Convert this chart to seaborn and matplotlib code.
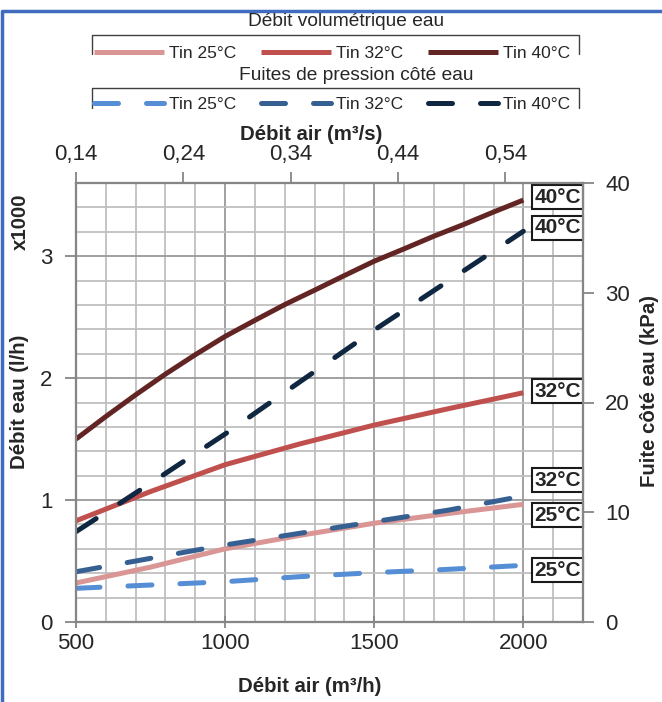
import seaborn as sns
import matplotlib.pyplot as plt
import pandas as pd
from matplotlib.lines import Line2D
from matplotlib.ticker import MultipleLocator

# values
air = [500, 750, 1000, 1250, 1500, 1750, 2000]          # Débit air (m3/h)
air_fine = [500, 600, 700, 800, 900, 1000, 1100, 1200, 1300, 1400,
            1500, 1600, 1700, 1800, 1900, 2000]
debit_25 = [0.32, 0.45, 0.60, 0.71, 0.81, 0.89, 0.965]  # Débit eau x1000 l/h
debit_32 = [0.83, 1.07, 1.29, 1.46, 1.615, 1.75, 1.88]
debit_40 = [1.50, 1.685, 1.863, 2.033, 2.192, 2.342, 2.474, 2.603, 2.721,
            2.841, 2.959, 3.06, 3.164, 3.26, 3.362, 3.46]  # on air_fine
fuite_25 = [3.07, 3.37, 3.67, 4.13, 4.50, 4.80, 5.16]   # Fuite côté eau (kPa)
fuite_32 = [4.58, 5.80, 7.02, 8.08, 9.14, 10.2, 11.48]
fuite_40 = [8.23, 12.64, 17.13, 21.87, 26.6, 31.1, 35.6]
temps = ["25°C", "32°C", "40°C"]
legend_labels = ["Tin 25°C", "Tin 32°C", "Tin 40°C"]
top_labels = ["0,14", "0,24", "0,34", "0,44", "0,54"]

solid_colors = ["#D99694", "#C0504D", "#632523"]
dash_colors = ["#558ED5", "#376092", "#0F2741"]
grey = "#868686"

debit = pd.DataFrame({
    "air": air + air + air_fine,
    "val": debit_25 + debit_32 + debit_40,
    "Tin": ["25°C"] * len(air) + ["32°C"] * len(air) + ["40°C"] * len(air_fine),
})
fuite = pd.DataFrame({
    "air": air * 3,
    "val": fuite_25 + fuite_32 + fuite_40,
    "Tin": [t for t in temps for _ in air],
})

sns.set_style("white")
plt.rcParams["font.family"] = ["Liberation Sans", "DejaVu Sans"]

W, H = 662, 702
fig = plt.figure(figsize=(W / 100, H / 100), dpi=100)
ax = fig.add_axes([76 / W, 1 - 622 / H, (583 - 76) / W, (622 - 183) / H])

sns.lineplot(data=debit, x="air", y="val", hue="Tin", hue_order=temps,
             palette=solid_colors, ax=ax, legend=False, linewidth=3.6,
             solid_capstyle="butt", solid_joinstyle="round")
ax.set_xlim(500, 2200)
ax.set_ylim(0, 3.6)
ax.set_xticks([500, 1000, 1500, 2000])
ax.set_yticks([0, 1, 2, 3])
ax.xaxis.set_minor_locator(MultipleLocator(100))
ax.yaxis.set_minor_locator(MultipleLocator(0.2))
ax.grid(which="minor", color="#BFBFBF", lw=1.3)
ax.grid(which="major", color="#9A9A9A", lw=1.3)
ax.set_axisbelow(True)
ax.tick_params(axis="x", which="major", direction="inout", length=8, width=1.3,
               color=grey, labelsize=16, pad=4)
ax.tick_params(axis="y", which="major", direction="out", length=8, width=1.3,
               color=grey, labelsize=16, pad=9, left=True)
ax.tick_params(which="minor", length=0)

ax2 = ax.twinx()
sns.lineplot(data=fuite, x="air", y="val", hue="Tin", hue_order=temps,
             palette=dash_colors, ax=ax2, legend=False, linewidth=3.6,
             linestyle=(0, (4.8, 5.6)), dash_capstyle="round")
ax2.set_ylim(0, 40)
ax2.set_yticks([0, 10, 20, 30, 40])
ax2.grid(False)
ax2.tick_params(axis="y", direction="out", length=8, width=1.3, color=grey,
                labelsize=16, pad=8, right=True)

ax3 = ax.twiny()
ax3.set_xlim(500 / 3600, 2200 / 3600)
ax3.set_xticks([500 / 3600 + 0.1 * i for i in range(len(top_labels))])
ax3.set_xticklabels(top_labels)
ax3.grid(False)
ax3.tick_params(axis="x", direction="out", length=8, width=1.3, color=grey,
                labelsize=16, pad=5, top=True)

for a in (ax, ax2, ax3):
    for s in a.spines.values():
        s.set_color(grey)
        s.set_linewidth(1.5)

ax.set_ylabel("")
ax.set_xlabel("Débit air (m³/h)", fontsize=14.7, fontweight="bold")
ax.xaxis.set_label_coords((310 - 76) / 507, (622 - 677) / 439)
ax2.set_ylabel("Fuite côté eau (kPa)", fontsize=14.7, fontweight="bold")
ax2.yaxis.set_label_coords((640 - 76) / 507, (622 - 391) / 439)
ax3.set_xlabel("Débit air (m³/s)", fontsize=14.7, fontweight="bold")
ax3.xaxis.set_label_coords((311 - 76) / 507, (622 - 140) / 439)
fig.text(20 / W, 1 - 402 / H, "Débit eau (l/h)", rotation=90, ha="center",
         va="center", fontsize=14.7, fontweight="bold")
fig.text(20 / W, 1 - 222 / H, "x1000", rotation=90, ha="center",
         va="center", fontsize=14.7, fontweight="bold")

# end-of-line labels
label_offsets_solid = [-10.7, 1.7, 3]
label_offsets_dash = [-4.7, 16, 3.5]
box = dict(boxstyle="square,pad=0.12", fc="white", ec="#1A1A1A", lw=1.5)
for ys, xs, t, dy in zip([debit_25, debit_32, debit_40], [air, air, air_fine],
                         temps, label_offsets_solid):
    ax.annotate(t, xy=(xs[-1], ys[-1]), xytext=(11, dy), textcoords="offset pixels",
                ha="left", va="center", fontsize=15, fontweight="bold",
                bbox=box, annotation_clip=False, zorder=10)
for t, ys, dy in zip(temps, [fuite_25, fuite_32, fuite_40], label_offsets_dash):
    ax2.annotate(t, xy=(air[-1], ys[-1]), xytext=(11, dy), textcoords="offset pixels",
                 ha="left", va="center", fontsize=15, fontweight="bold",
                 bbox=box, annotation_clip=False, zorder=10)

# legends with their titles and bracket frames
leg_kw = dict(loc="center", ncol=3, frameon=False, fontsize=12.5, handlelength=4,
              handletextpad=0.3, columnspacing=1.45, borderpad=0)
fig.legend(ax.get_lines()[:3], legend_labels,
           bbox_to_anchor=(332 / W, 1 - 53 / H), **leg_kw)
fig.legend(ax2.get_lines()[:3], legend_labels,
           bbox_to_anchor=(332 / W, 1 - 104 / H), **leg_kw)
fig.text(346 / W, 1 - 21 / H, "Débit volumétrique eau", ha="center", va="center",
         fontsize=13.8)
fig.text(356 / W, 1 - 76 / H, "Fuites de pression côté eau", ha="center",
         va="center", fontsize=13.8)
for top, bot in [(35, 54), (88, 108)]:
    fig.add_artist(Line2D([92 / W, 92 / W, 579 / W, 579 / W],
                          [1 - bot / H, 1 - top / H, 1 - top / H, 1 - bot / H],
                          color="#404040", lw=1))

# outer blue frame
fig.add_artist(Line2D([2 / W, 2 / W, 1], [0, 1 - 11 / H, 1 - 11 / H],
                      color="#3F6CBF", lw=2.5))

plt.savefig("out.png", dpi=100)
plt.close()
